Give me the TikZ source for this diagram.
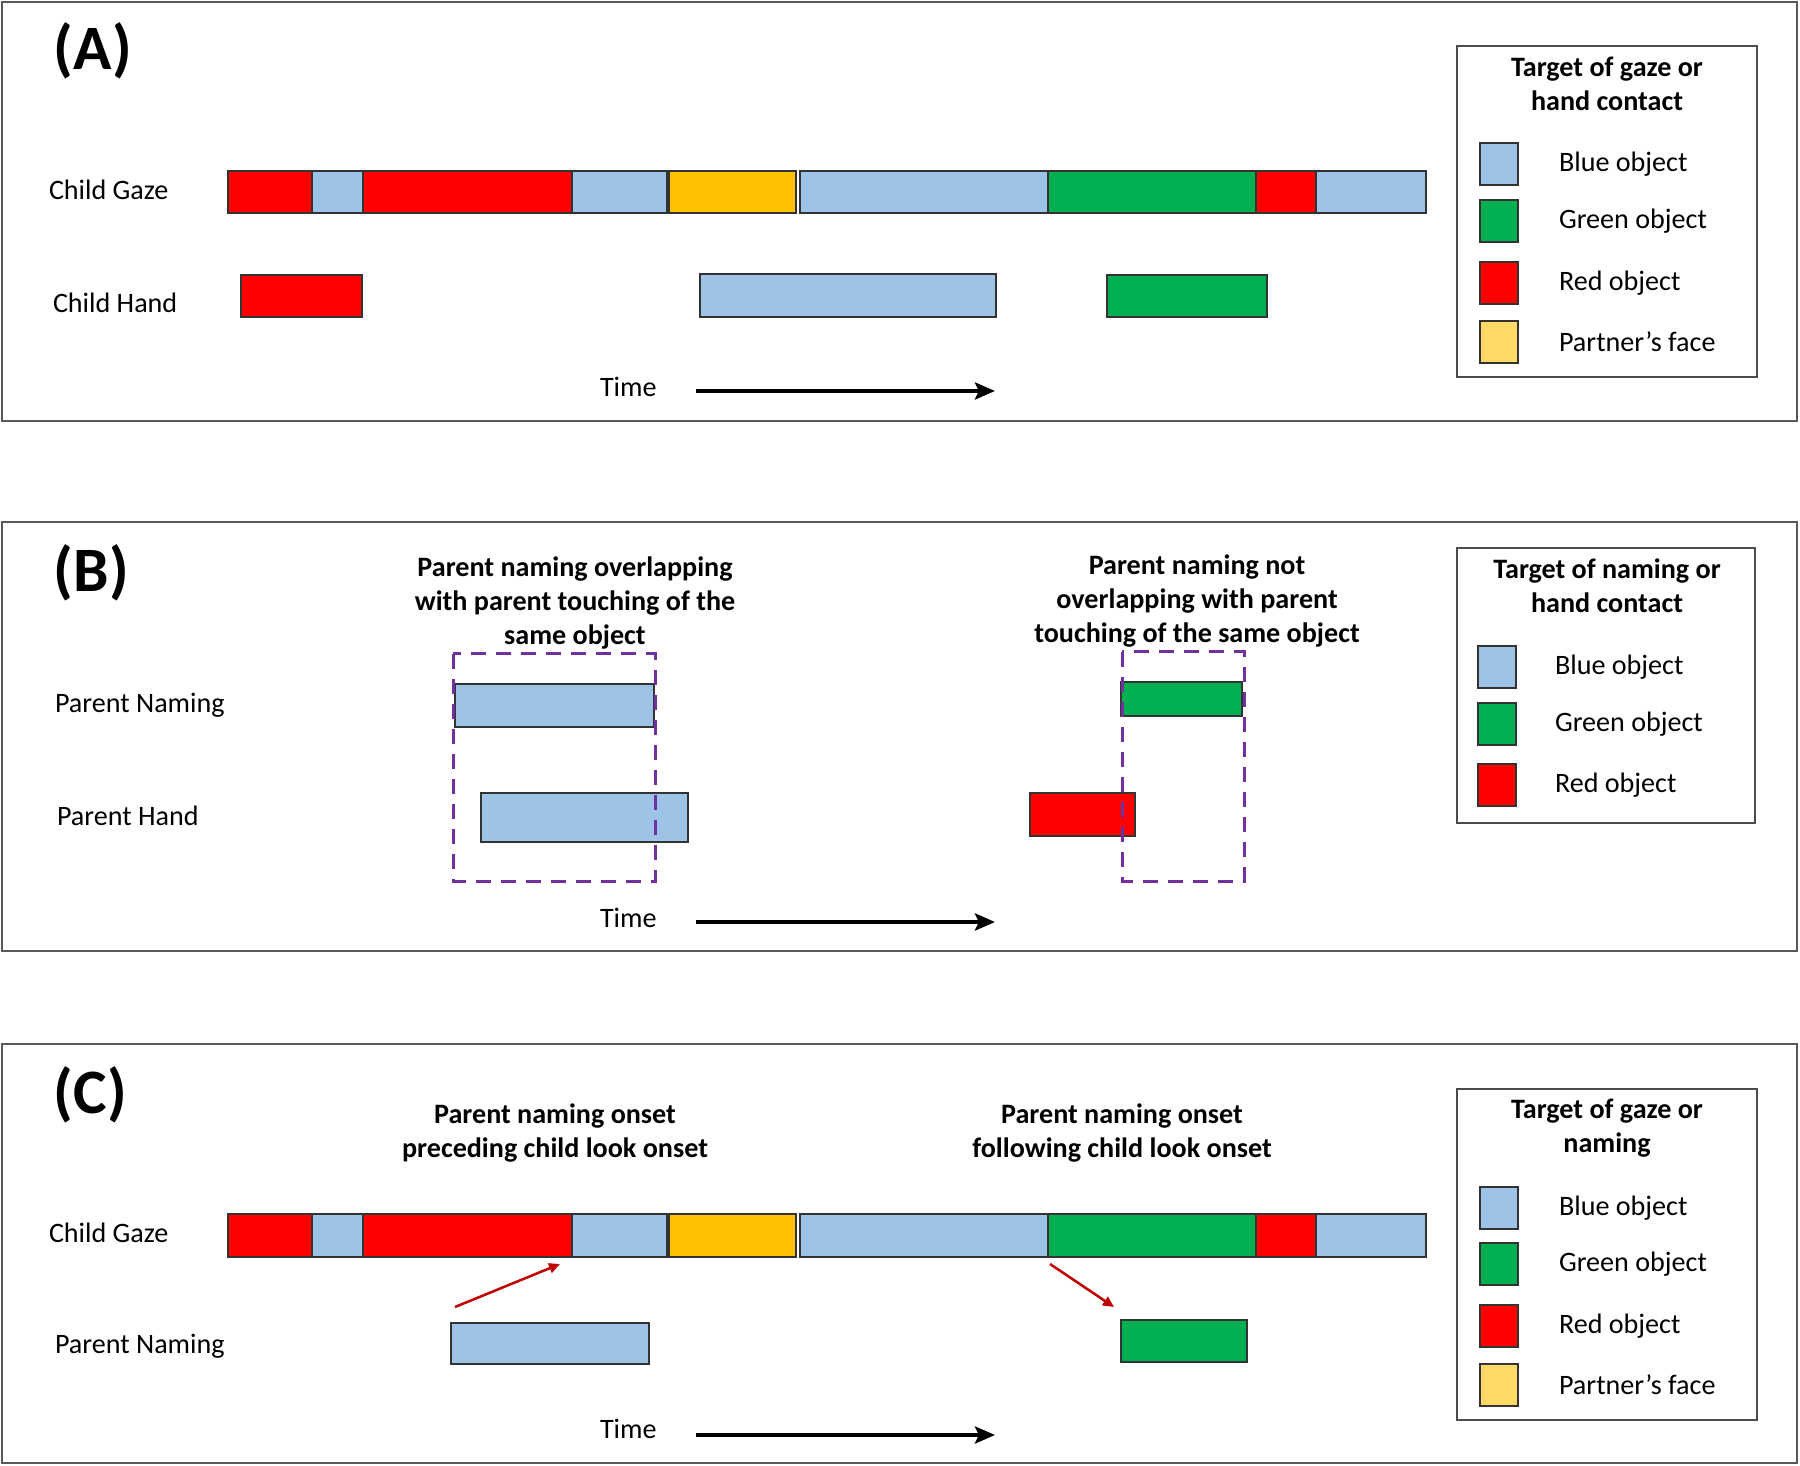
\documentclass[tikz,border=0pt]{standalone}
\usepackage{fontspec}
\setmainfont{Carlito}
\usepackage{xcolor}
\usepackage{tikz}
\usetikzlibrary{positioning,arrows.meta}
\definecolor{objred}{RGB}{255,0,0}
\definecolor{objblue}{RGB}{157,195,230}
\definecolor{objgreen}{RGB}{0,176,80}
\definecolor{faceorange}{RGB}{255,192,0}
\definecolor{faceyellow}{RGB}{255,217,102}
\definecolor{boxpurple}{RGB}{112,48,160}
\definecolor{onsetred}{RGB}{192,0,0}

\begin{document}
\begin{tikzpicture}[x=0.1mm, y=-0.1mm,
  every node/.style={font=\fontsize{8pt}{9.7pt}\selectfont, inner sep=0pt, outer sep=0pt},
  bar/.style={draw=black!80, line width=0.12mm, anchor=north west},
  barspan/.style 2 args={minimum width=(#1)*0.1mm, minimum height=(#2)*0.1mm},
  swatch/.style={bar, barspan={38}{42}},
  panel/.style={draw=black!65, line width=0.25mm},
  legendbox/.style={draw=black!70, line width=0.2mm},
  title/.style={font=\fontsize{8pt}{9.7pt}\selectfont\bfseries, align=center, anchor=north},
  tag/.style={font=\fontsize{18pt}{21pt}\selectfont\bfseries, anchor=base west},
  rowlabel/.style={anchor=base west},
  timearrow/.style={line width=0.45mm, -{Stealth[length=2mm, width=1.7mm, inset=0.4mm]}},
  samebox/.style={draw=boxpurple, line width=0.3mm, dash pattern=on 1.5mm off 1mm},
  onset/.style={draw=onsetred, line width=0.25mm, -{Triangle[length=1.1mm, width=1mm]}}
]
  \useasboundingbox (0,0) rectangle (1800,1466);

  % panel frames
  \draw[panel] (2,2) rectangle (1797,421);
  \draw[panel] (2,522) rectangle (1797,951);
  \draw[panel] (2,1044) rectangle (1797,1463);

  % (A) child gaze and hand
  \node[tag] (tagA) at (54,70) {(A)};
  \node[rowlabel] (gazeA) at (49,200) {Child Gaze};
  \node[rowlabel] (handA) at (53,313) {Child Hand};
  \foreach \xa/\xb/\col [count=\i] in {228/312/objred, 312/363/objblue, 363/572/objred,
      572/667/objblue, 669/796/faceorange, 800/1048/objblue, 1048/1256/objgreen,
      1256/1316/objred, 1316/1426/objblue}
    \node[bar, fill=\col, barspan={\xb-\xa}{42}] (gA\i) at (\xa,171) {};
  \node[bar, fill=objred, barspan={121}{42}] (hA1) at (241,275) {};
  \node[bar, fill=objblue, barspan={296}{43}] (hA2) at (700,274) {};
  \node[bar, fill=objgreen, barspan={160}{42}] (hA3) at (1107,275) {};

  \node[rowlabel] (timeA) at (600,397) {Time};
  \coordinate (tA0) at (696,391);
  \coordinate (tA1) at (995,391);
  \draw[timearrow] (tA0) -- (tA1);

  \draw[legendbox] (1457,46) rectangle (1757,377);
  \node[title] (keyA) at (1607,57) {Target of gaze or\\hand contact};
  \node[swatch, fill=objblue] (kA1) at (1480,143) {};
  \node[swatch, fill=objgreen] (kA2) at (1480,200) {};
  \node[swatch, fill=objred] (kA3) at (1480,262) {};
  \node[swatch, fill=faceyellow] (kA4) at (1480,321) {};
  \node[right=4.1mm of kA1] (kA1t) {Blue object};
  \node[right=4.1mm of kA2] (kA2t) {Green object};
  \node[right=4.1mm of kA3] (kA3t) {Red object};
  \node[right=4.1mm of kA4] (kA4t) {Partner’s face};

  % (B) parent naming and hand
  \node[tag] (tagB) at (54,592) {(B)};
  \node[title] (overlap) at (575,557) {Parent naming overlapping\\with parent touching of the\\same object};
  \node[title] (nooverlap) at (1197,555) {Parent naming not\\overlapping with parent\\touching of the same object};
  \node[rowlabel] (nameB) at (55,713) {Parent Naming};
  \node[rowlabel] (handB) at (57,825) {Parent Hand};
  \node[bar, fill=objblue, barspan={199}{43}] (nB1) at (455,684) {};
  \node[bar, fill=objblue, barspan={207}{49}] (hB1) at (481,793) {};
  \node[bar, fill=objgreen, barspan={121}{34}] (nB2) at (1121,682) {};
  \node[bar, fill=objred, barspan={105}{43}] (hB2) at (1030,793) {};
  \draw[samebox] (453,654) rectangle (655,881);
  \draw[samebox] (1122,652) rectangle (1244,881);

  \node[rowlabel] (timeB) at (600,927) {Time};
  \coordinate (tB0) at (696,922);
  \coordinate (tB1) at (995,922);
  \draw[timearrow] (tB0) -- (tB1);

  \draw[legendbox] (1457,548) rectangle (1755,823);
  \node[title] (keyB) at (1607,559) {Target of naming or\\hand contact};
  \node[swatch, fill=objblue] (kB1) at (1478,646) {};
  \node[swatch, fill=objgreen] (kB2) at (1478,703) {};
  \node[swatch, fill=objred] (kB3) at (1478,764) {};
  \node[right=3.9mm of kB1] (kB1t) {Blue object};
  \node[right=3.9mm of kB2] (kB2t) {Green object};
  \node[right=3.9mm of kB3] (kB3t) {Red object};

  % (C) naming onset vs look onset
  \node[tag] (tagC) at (54,1113) {(C)};
  \node[title] (preceding) at (555,1104) {Parent naming onset\\preceding child look onset};
  \node[title] (following) at (1122,1104) {Parent naming onset\\following child look onset};
  \node[rowlabel] (gazeC) at (49,1242) {Child Gaze};
  \node[rowlabel] (nameC) at (55,1353) {Parent Naming};
  \foreach \xa/\xb/\col [count=\i] in {228/312/objred, 312/363/objblue, 363/572/objred,
      572/667/objblue, 669/796/faceorange, 800/1048/objblue, 1048/1256/objgreen,
      1256/1316/objred, 1316/1426/objblue}
    \node[bar, fill=\col, barspan={\xb-\xa}{43}] (gC\i) at (\xa,1214) {};
  \node[bar, fill=objblue, barspan={198}{41}] (nC1) at (451,1323) {};
  \node[bar, fill=objgreen, barspan={126}{42}] (nC2) at (1121,1320) {};

  \coordinate (pre0) at (455,1307);
  \coordinate (pre1) at (560,1264);
  \draw[onset] (pre0) -- (pre1);
  \coordinate (fol0) at (1050,1264);
  \coordinate (fol1) at (1114,1307);
  \draw[onset] (fol0) -- (fol1);

  \node[rowlabel] (timeC) at (600,1438) {Time};
  \coordinate (tC0) at (696,1435);
  \coordinate (tC1) at (995,1435);
  \draw[timearrow] (tC0) -- (tC1);

  \draw[legendbox] (1457,1089) rectangle (1757,1420);
  \node[title] (keyC) at (1607,1099) {Target of gaze or\\naming};
  \node[swatch, fill=objblue] (kC1) at (1480,1187) {};
  \node[swatch, fill=objgreen] (kC2) at (1480,1243) {};
  \node[swatch, fill=objred] (kC3) at (1480,1305) {};
  \node[swatch, fill=faceyellow] (kC4) at (1480,1364) {};
  \node[right=4.1mm of kC1] (kC1t) {Blue object};
  \node[right=4.1mm of kC2] (kC2t) {Green object};
  \node[right=4.1mm of kC3] (kC3t) {Red object};
  \node[right=4.1mm of kC4] (kC4t) {Partner’s face};
\end{tikzpicture}
\end{document}
